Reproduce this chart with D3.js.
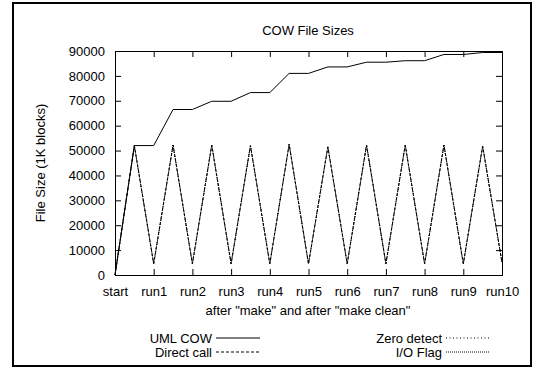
<!DOCTYPE html>
<html>
<head>
<meta charset="utf-8">
<script src="https://cdn.jsdelivr.net/npm/d3@7"></script>
<style>
  body { margin: 0; background: #fff; }
  text { font-family: "Liberation Sans", Arial, sans-serif; font-size: 13px; fill: #000; }
</style>
</head>
<body>
<div id="chart"></div>
<script>
'use strict'

var width = 534;
var height = 369;

// tick labels on the x axis (every second measurement)
var runLabels = ['start', 'run1', 'run2', 'run3', 'run4', 'run5', 'run6', 'run7', 'run8', 'run9', 'run10'];
var yTicks = [0, 10000, 20000, 30000, 40000, 50000, 60000, 70000, 80000, 90000];

// measurements alternate: after "make", after "make clean"
var umlCow = [0, 52000, 52000, 66500, 66500, 69800, 69800, 73300, 73300, 81000, 81000,
  83600, 83600, 85500, 85500, 86100, 86100, 88600, 88600, 89400, 89400];
var directCall = [0, 52000, 4500, 52200, 4500, 52200, 4500, 52000, 4500, 52500, 4500,
  51500, 4500, 52200, 4500, 52200, 4500, 52200, 4500, 51800, 5000];
var zeroDetect = [0, 52000, 4500, 52200, 4500, 52200, 4500, 52000, 4500, 52500, 4500,
  51500, 4500, 52200, 4500, 52200, 4500, 52200, 4500, 51800, 5000];
var ioFlag = [0, 52000, 4500, 52200, 4500, 52200, 4500, 52000, 4500, 52500, 4500,
  51500, 4500, 52200, 4500, 52200, 4500, 52200, 4500, 51800, 5000];

var seriesNames = ['UML COW', 'Direct call', 'Zero detect', 'I/O Flag'];
var seriesData = [umlCow, directCall, zeroDetect, ioFlag];
var seriesDash = [null, '3,2', '1,2.5', '1,1'];

var plot = {left: 115, right: 502, top: 51, bottom: 275};

var svg = d3.select('#chart').append('svg')
  .attr('width', width)
  .attr('height', height);

// outer frame
svg.append('rect')
  .attr('x', 13).attr('y', 3)
  .attr('width', 518).attr('height', 363)
  .attr('fill', 'none')
  .attr('stroke', '#000')
  .attr('stroke-width', 2);

var xScale = d3.scaleLinear()
  .domain([0, umlCow.length - 1])
  .range([plot.left, plot.right]);

var yScale = d3.scaleLinear()
  .domain([0, 90000])
  .range([plot.bottom, plot.top]);

var tickIdx = runLabels.map(function(d, i){ return i * 2; });

// axes with inward ticks, mirrored on top and right
var g = svg.append('g');

g.append('g')
  .attr('transform', 'translate(0,' + plot.bottom + ')')
  .call(d3.axisBottom(xScale).tickValues(tickIdx).tickSize(-6).tickPadding(12)
    .tickFormat(function(d){ return runLabels[d / 2]; }));

g.append('g')
  .attr('transform', 'translate(0,' + plot.top + ')')
  .call(d3.axisTop(xScale).tickValues(tickIdx).tickSize(-6).tickFormat(''));

g.append('g')
  .attr('transform', 'translate(' + plot.left + ',0)')
  .call(d3.axisLeft(yScale).tickValues(yTicks).tickSize(-6).tickPadding(10)
    .tickFormat(d3.format('d')));

g.append('g')
  .attr('transform', 'translate(' + plot.right + ',0)')
  .call(d3.axisRight(yScale).tickValues(yTicks).tickSize(-6).tickFormat(''));

g.selectAll('.domain').attr('stroke', '#000');
g.selectAll('.tick line').attr('stroke', '#000');
g.selectAll('.tick text')
  .style('font-family', '"Liberation Sans", Arial, sans-serif')
  .style('font-size', '13px')
  .attr('fill', '#000');

// the series lines
var line = d3.line()
  .x(function(d, i){ return xScale(i); })
  .y(function(d){ return yScale(d); });

seriesData.forEach(function(data, k){
  svg.append('path')
    .datum(data)
    .attr('d', line)
    .attr('fill', 'none')
    .attr('stroke', '#000')
    .attr('stroke-width', 1)
    .attr('stroke-dasharray', seriesDash[k]);
});

// titles
svg.append('text')
  .attr('x', 308).attr('y', 35)
  .attr('text-anchor', 'middle')
  .text('COW File Sizes');

svg.append('text')
  .attr('x', 308).attr('y', 315)
  .attr('text-anchor', 'middle')
  .text('after "make" and after "make clean"');

svg.append('text')
  .attr('transform', 'translate(45,163) rotate(-90)')
  .attr('text-anchor', 'middle')
  .text('File Size (1K blocks)');

// legend, two columns
var legendPos = [
  {x: 212, y: 338}, {x: 212, y: 352},
  {x: 442, y: 338}, {x: 442, y: 352}
];

seriesNames.forEach(function(name, k){
  var p = legendPos[k];
  svg.append('text')
    .attr('x', p.x).attr('y', p.y + 4.5)
    .attr('text-anchor', 'end')
    .text(name);
  svg.append('line')
    .attr('x1', p.x + 4).attr('x2', p.x + 48)
    .attr('y1', p.y).attr('y2', p.y)
    .attr('stroke', '#000')
    .attr('stroke-dasharray', seriesDash[k]);
});
</script>
</body>
</html>
